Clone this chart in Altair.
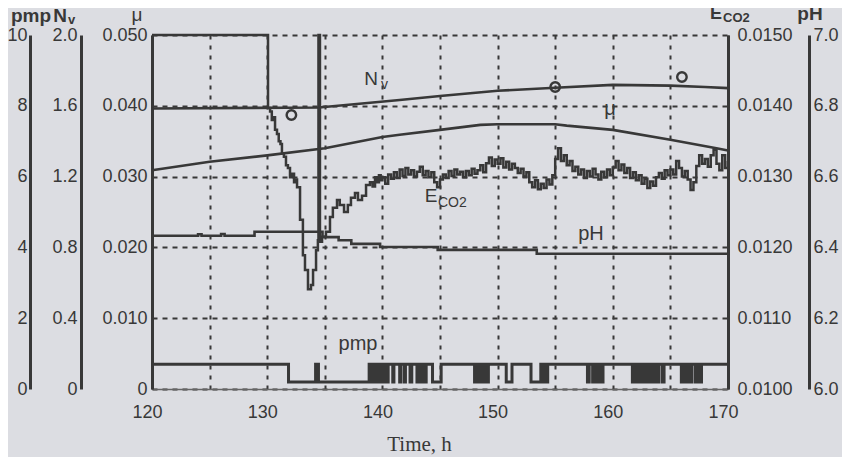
import altair as alt
import pandas as pd

# ---------------- data ----------------
pmp_time = [120.0, 131.85, 134.2, 134.45, 138.85, 139.0, 139.15, 139.3, 139.45, 139.6,
            139.75, 139.95, 140.1, 140.3, 140.5, 140.9, 141.0, 141.5, 141.6, 141.9,
            142.0, 142.4, 142.55, 143.0, 143.15, 143.3, 143.45, 143.65, 143.8, 144.35,
            145.1, 148.0, 148.15, 148.3, 148.45, 148.65, 148.85, 149.0, 149.2, 150.75,
            151.25, 152.9, 153.75, 153.9, 154.05, 154.2, 154.35, 157.8, 157.95, 158.25,
            158.4, 158.65, 158.8, 159.0, 159.15, 161.7, 161.85, 162.0, 162.15, 162.35,
            162.5, 162.7, 162.85, 163.05, 163.2, 163.45, 163.6, 163.85, 164.0, 164.3,
            164.45, 165.95, 166.1, 166.3, 166.45, 166.7, 166.85, 167.15, 167.3, 167.55,
            167.7, 170.0]
pmp_value = [0.7, 0.2, 0.7, 0.2, 0.7, 0.2, 0.7, 0.2, 0.7, 0.2,
             0.7, 0.2, 0.7, 0.2, 0.7, 0.2, 0.7, 0.2, 0.7, 0.2,
             0.7, 0.2, 0.7, 0.2, 0.7, 0.2, 0.7, 0.2, 0.7, 0.2,
             0.7, 0.2, 0.7, 0.2, 0.7, 0.2, 0.7, 0.2, 0.7, 0.2,
             0.7, 0.2, 0.7, 0.2, 0.7, 0.2, 0.7, 0.2, 0.7, 0.2,
             0.7, 0.2, 0.7, 0.2, 0.7, 0.2, 0.7, 0.2, 0.7, 0.2,
             0.7, 0.2, 0.7, 0.2, 0.7, 0.2, 0.7, 0.2, 0.7, 0.2,
             0.7, 0.2, 0.7, 0.2, 0.7, 0.2, 0.7, 0.2, 0.7, 0.2,
             0.7, 0.7]

nv_time = [120.0, 134.5, 141.5, 145.0, 150.0, 155.0, 160.0, 165.0, 168.0, 170.0]
nv_value = [1.585, 1.590, 1.633, 1.655, 1.685, 1.702, 1.718, 1.714, 1.706, 1.700]

nv_meas_time = [132.1, 155.0, 166.0]
nv_meas_value = [1.548, 1.706, 1.763]

mu_time = [120.0, 125.0, 130.0, 135.0, 140.0, 141.5, 145.0, 148.5, 150.0, 155.0,
           156.0, 160.0, 165.0, 169.0, 170.0]
mu_value = [0.0309, 0.0321, 0.0330, 0.0340, 0.0356, 0.0359, 0.0366, 0.0373, 0.0374, 0.0374,
            0.0372, 0.0366, 0.0352, 0.0340, 0.0337]

ph_time = [120.0, 124.0, 124.3, 126.0, 126.3, 128.9, 134.8, 136.2, 137.3, 139.8,
           144.8, 153.4, 170.0]
ph_value = [6.433, 6.437, 6.433, 6.438, 6.433, 6.444, 6.429, 6.420, 6.410, 6.401,
            6.393, 6.382, 6.380]

eco2_early_time = [120.0, 129.8, 130.07, 130.25, 130.4, 130.55, 130.68, 130.85, 131.0, 131.15,
                   131.28, 131.45, 131.63, 131.8, 131.98, 132.15, 132.33, 132.45, 132.59, 132.85,
                   133.1, 133.28, 133.54, 133.8, 133.98, 134.24, 134.4, 134.45, 134.54, 134.58,
                   134.76, 135.1, 135.45, 135.7, 136.06, 136.3, 136.67, 137.0, 137.27, 137.62,
                   137.88, 138.23, 138.58, 138.92, 139.15, 139.36, 139.55, 139.7, 139.85]
eco2_early_value = [0.01500, 0.01500, 0.01397, 0.01392, 0.01380, 0.01384, 0.01366, 0.01360, 0.01350, 0.01346,
                    0.01333, 0.01328, 0.01316, 0.01312, 0.01299, 0.01304, 0.01292, 0.01296, 0.01285, 0.01239,
                    0.01189, 0.01168, 0.01141, 0.01147, 0.01168, 0.01196, 0.01210, 0.01500, 0.01500, 0.01208,
                    0.01215, 0.01222, 0.01243, 0.01256, 0.01267, 0.01260, 0.01250, 0.01260, 0.01270, 0.01277,
                    0.01267, 0.01273, 0.01288, 0.01292, 0.01286, 0.01299, 0.01292, 0.01302, 0.01295]
# sampled every 0.25 h from 140 h to 170 h
eco2_late_value = [
    0.01299, 0.01290, 0.01303, 0.01297, 0.01306, 0.01298, 0.01310, 0.01301,
    0.01312, 0.01303, 0.01309, 0.01300, 0.01307, 0.01314, 0.01302, 0.01308,
    0.01299, 0.01306, 0.01292, 0.01285, 0.01296, 0.01303, 0.01298, 0.01308,
    0.01301, 0.01310, 0.01303, 0.01307, 0.01299, 0.01308, 0.01302, 0.01311,
    0.01304, 0.01309, 0.01316, 0.01306, 0.01319, 0.01327, 0.01315, 0.01324,
    0.01318, 0.01326, 0.01313, 0.01321, 0.01310, 0.01318, 0.01312, 0.01305,
    0.01311, 0.01300, 0.01306, 0.01292, 0.01285, 0.01295, 0.01282, 0.01290,
    0.01284, 0.01296, 0.01289, 0.01302, 0.01325, 0.01340, 0.01322, 0.01330,
    0.01316, 0.01322, 0.01308, 0.01314, 0.01303, 0.01310, 0.01298, 0.01308,
    0.01300, 0.01311, 0.01303, 0.01296, 0.01307, 0.01299, 0.01310, 0.01302,
    0.01313, 0.01322, 0.01309, 0.01317, 0.01305, 0.01312, 0.01298, 0.01306,
    0.01295, 0.01302, 0.01290, 0.01297, 0.01284, 0.01293, 0.01287, 0.01299,
    0.01305, 0.01297, 0.01309, 0.01302, 0.01310, 0.01303, 0.01322, 0.01312,
    0.01300, 0.01308, 0.01296, 0.01281, 0.01292, 0.01315, 0.01330, 0.01318,
    0.01325, 0.01314, 0.01330, 0.01338, 0.01318, 0.01309, 0.01330, 0.01312,
    0.01322]
eco2_late_time = [140 + 0.25 * i for i in range(len(eco2_late_value))]

x_ticks = [120, 125, 130, 135, 140, 145, 150, 155, 160, 165, 170]
pmp_ticks = [0, 2, 4, 6, 8, 10]
nv_ticks = [0, 0.4, 0.8, 1.2, 1.6, 2.0]
mu_ticks = [0, 0.01, 0.02, 0.03, 0.04, 0.05]
eco2_ticks = [0.010, 0.011, 0.012, 0.013, 0.014, 0.015]
ph_ticks = [6.0, 6.2, 6.4, 6.6, 6.8, 7.0]

# ---------------- styling ----------------
INK = "#383838"
BG = "#dcdde2"
SANS = "Liberation Sans"
SERIF = "Liberation Serif"
FS = 18


def x_enc():
    return alt.X(
        "t:Q",
        scale=alt.Scale(domain=[120, 170], nice=False, zero=False),
        axis=alt.Axis(
            values=x_ticks,
            labelExpr="datum.value % 10 === 0 ? datum.label : ''",
            grid=True, gridDash=[4, 6], gridColor=INK, gridWidth=2, gridOpacity=1,
            domainColor="#666666", domainWidth=1.5, ticks=False,
            labelFont=SANS, labelFontSize=FS, labelColor=INK, labelPadding=14,
            labelFlush=False, labelOffset=-5,
            title="Time, h", titleFont=SERIF, titleFontSize=21, titleFontWeight="normal",
            titleColor=INK, titleX=267, titleY=61, titleBaseline="alphabetic",
        ),
    )


def y_axis(orient, offset, values, expr, pad=4, grid=False):
    return alt.Axis(
        orient=orient, offset=offset, values=values, labelExpr=expr,
        domain=True, domainColor=INK, domainWidth=3, ticks=False,
        labelFont=SANS, labelFontSize=FS, labelColor=INK, labelPadding=pad,
        title=None, grid=grid, gridDash=[5, 5], gridColor=INK, gridWidth=2, gridOpacity=1,
    )


df_pmp = pd.DataFrame({"t": pmp_time, "v": pmp_value})
df_nv = pd.DataFrame({"t": nv_time, "v": nv_value})
df_nvm = pd.DataFrame({"t": nv_meas_time, "v": nv_meas_value})
df_mu = pd.DataFrame({"t": mu_time, "v": mu_value})
df_ph = pd.DataFrame({"t": ph_time, "v": ph_value})
df_e = pd.DataFrame({"t": eco2_early_time + eco2_late_time,
                     "v": eco2_early_value + eco2_late_value})
dummy = pd.DataFrame({"a": [0]})

mu_layer = alt.Chart(df_mu).mark_line(color=INK, strokeWidth=2.6).encode(
    x=x_enc(),
    y=alt.Y("v:Q", scale=alt.Scale(domain=[0, 0.05], nice=False, zero=False),
            axis=y_axis("left", 0, mu_ticks,
                        "datum.value === 0 ? '0' : format(datum.value, '.3f')", pad=5, grid=True)),
)

pmp_layer = alt.Chart(df_pmp).mark_line(color=INK, strokeWidth=3, interpolate="step-after").encode(
    x=x_enc(),
    y=alt.Y("v:Q", scale=alt.Scale(domain=[0, 10], nice=False, zero=False),
            axis=y_axis("left", 122, pmp_ticks, "datum.label", pad=3)),
)

nv_layer = alt.Chart(df_nv).mark_line(color=INK, strokeWidth=2.6).encode(
    x=x_enc(),
    y=alt.Y("v:Q", scale=alt.Scale(domain=[0, 2], nice=False, zero=False),
            axis=y_axis("left", 71, nv_ticks,
                        "datum.value === 0 ? '0' : format(datum.value, '.1f')")),
)

nvm_layer = alt.Chart(df_nvm).mark_point(
    shape="circle", filled=False, size=90, strokeWidth=2.4, color=INK, opacity=1
).encode(
    x=x_enc(),
    y=alt.Y("v:Q", scale=alt.Scale(domain=[0, 2], nice=False, zero=False), axis=None),
)

e_layer = alt.Chart(df_e).mark_line(color=INK, strokeWidth=2.5, interpolate="step-after").encode(
    x=x_enc(),
    y=alt.Y("v:Q", scale=alt.Scale(domain=[0.010, 0.015], nice=False, zero=False),
            axis=y_axis("right", 0, eco2_ticks, "format(datum.value, '.4f')", pad=9)),
)

ph_layer = alt.Chart(df_ph).mark_line(color=INK, strokeWidth=2.6, interpolate="step-after").encode(
    x=x_enc(),
    y=alt.Y("v:Q", scale=alt.Scale(domain=[6, 7], nice=False, zero=False),
            axis=y_axis("right", 81, ph_ticks, "format(datum.value, '.1f')")),
)


def label(text, x, y, size=19, bold=True, align="center"):
    return alt.Chart(dummy).mark_text(
        text=text, font=SANS, fontSize=size, fontWeight="bold" if bold else "normal",
        color=INK, align=align, baseline="alphabetic",
    ).encode(x=alt.value(x), y=alt.value(y))


labels = [
    # axis titles
    label("pmp", -121, -13),
    label("N", -92, -13),
    label("v", -84, -11, size=13, align="left"),
    label("μ", -15, -14, bold=False),
    label("E", 564, -16, size=18),
    label("CO2", 571, -13, size=13, align="left"),
    label("pH", 658, -15),
    # in-plot labels
    label("N", 219, 50, size=19, bold=False),
    label("v", 229, 54, size=14, bold=False, align="left"),
    label("μ", 458, 80, size=20, bold=False),
    label("E", 279, 167, size=19, bold=False),
    label("CO2", 286, 172, size=14, bold=False, align="left"),
    label("pH", 439, 205, size=20, bold=False),
    label("pmp", 206, 315, size=20, bold=False),
]

chart = alt.layer(
    mu_layer, pmp_layer, nv_layer, e_layer, ph_layer, nvm_layer, *labels
).resolve_scale(y="independent").properties(
    width=576, height=354, background=BG,
    padding={"left": 144, "top": 27, "right": 114, "bottom": 68},
    autosize=alt.AutoSizeParams(type="none"),
).configure_view(stroke=None)

chart.save("out.html", embed_options={"renderer": "svg", "actions": False})
